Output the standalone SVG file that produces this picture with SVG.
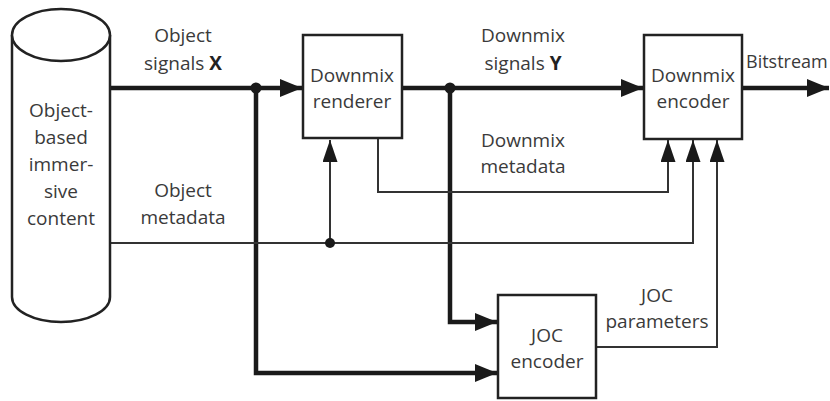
<svg xmlns="http://www.w3.org/2000/svg" width="830" height="401" viewBox="0 0 830 401">
<style>
.box{fill:#fff;stroke:#222;stroke-width:2.5}
.thick{fill:none;stroke:#1a1a1a;stroke-width:4.5}
.thin{fill:none;stroke:#333;stroke-width:2}
text{font-family:"Open Sans","Liberation Sans",sans-serif;font-size:19px;fill:#3a3a3a;text-anchor:middle}
.b{font-weight:bold;fill:#222}
</style>
<defs>
<marker id="ak" markerUnits="userSpaceOnUse" markerWidth="24" markerHeight="20" refX="22" refY="9" orient="auto"><path d="M0,0 L22,9 L0,18 Z" fill="#1a1a1a"/></marker>
<marker id="an" markerUnits="userSpaceOnUse" markerWidth="24" markerHeight="16" refX="22" refY="7.5" orient="auto"><path d="M0,0 L22,7.5 L0,15 Z" fill="#1a1a1a"/></marker>
</defs>
<g id="connectors">
<path class="thick" d="M110,88 H302" marker-end="url(#ak)"/>
<path class="thick" d="M256,88 V373 H497" marker-end="url(#ak)"/>
<path class="thick" d="M402,88 H643" marker-end="url(#ak)"/>
<path class="thick" d="M450,88 V322 H497" marker-end="url(#ak)"/>
<path class="thick" d="M742,88 H829" marker-end="url(#ak)"/>
<path class="thin" d="M110,243 H693 V140" marker-end="url(#an)"/>
<path class="thin" d="M330,243 V140" marker-end="url(#an)"/>
<path class="thin" d="M378,138 V192 H668 V140" marker-end="url(#an)"/>
<path class="thin" d="M596,347 H717 V140" marker-end="url(#an)"/>
<circle cx="256" cy="88" r="5.5" fill="#1a1a1a"/>
<circle cx="450" cy="88" r="5.5" fill="#1a1a1a"/>
<circle cx="330" cy="243" r="5" fill="#1a1a1a"/>
</g>
<g id="content">
<path class="box" d="M12,35 V297 A49,25 0 0 0 110,297 V35"/>
<ellipse class="box" cx="61" cy="35" rx="49" ry="26"/>
<text x="61" y="117">Object-</text>
<text x="61" y="144">based</text>
<text x="61" y="171">immer-</text>
<text x="61" y="198">sive</text>
<text x="61" y="225">content</text>
</g>
<g id="renderer">
<rect class="box" x="303" y="35" width="99" height="103"/>
<text x="352" y="82">Downmix</text>
<text x="352" y="108">renderer</text>
</g>
<g id="dmxencoder">
<rect class="box" x="644" y="35" width="98" height="104"/>
<text x="693" y="82">Downmix</text>
<text x="693" y="108">encoder</text>
</g>
<g id="jocencoder">
<rect class="box" x="498" y="295" width="98" height="103"/>
<text x="547" y="342">JOC</text>
<text x="547" y="368">encoder</text>
</g>
<g id="labels">
<text x="183" y="42">Object</text>
<text x="183" y="70">signals <tspan class="b">X</tspan></text>
<text x="183" y="197">Object</text>
<text x="183" y="224">metadata</text>
<text x="523" y="42">Downmix</text>
<text x="523" y="70">signals <tspan class="b">Y</tspan></text>
<text x="523" y="147">Downmix</text>
<text x="523" y="173">metadata</text>
<text x="746" y="68" style="text-anchor:start;font-size:18px">Bitstream</text>
<text x="657" y="302">JOC</text>
<text x="657" y="328">parameters</text>
</g>
</svg>
